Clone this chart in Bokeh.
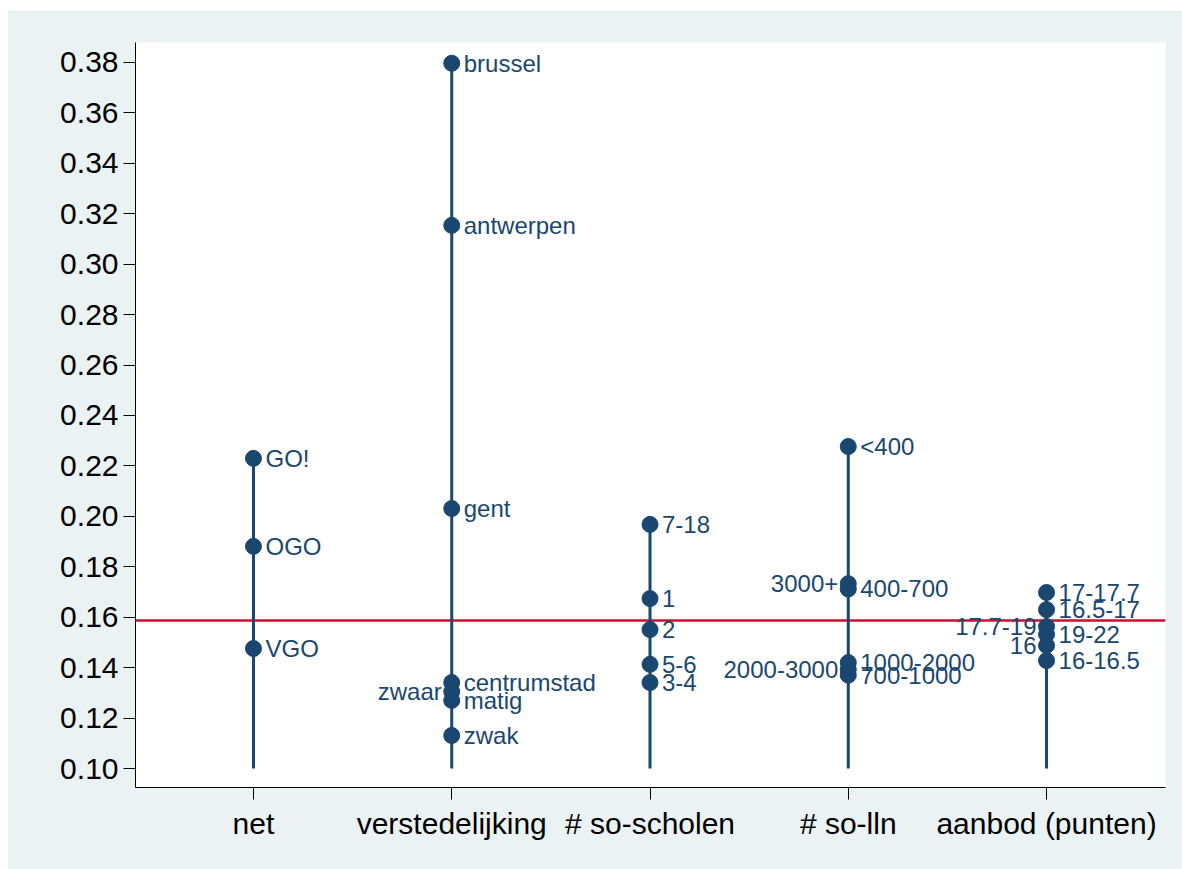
from bokeh.plotting import figure
from bokeh.models import ColumnDataSource, Span, FixedTicker
from bokeh.core.properties import value
from bokeh.embed import file_html
from bokeh.resources import INLINE

categories = ["net", "verstedelijking", "# so-scholen", "# so-lln", "aanbod (punten)"]

net_labels = ["GO!", "OGO", "VGO"]
net_values = [0.2230, 0.1881, 0.1476]
net_sides = ["r", "r", "r"]

verst_labels = ["brussel", "antwerpen", "gent", "centrumstad", "zwaar", "matig", "zwak"]
verst_values = [0.3797, 0.3154, 0.2031, 0.1341, 0.1305, 0.1270, 0.1131]
verst_sides = ["r", "r", "r", "r", "l", "r", "r"]

scholen_labels = ["7-18", "1", "2", "5-6", "3-4"]
scholen_values = [0.1968, 0.1674, 0.1551, 0.1413, 0.1341]
scholen_sides = ["r", "r", "r", "r", "r"]

lln_labels = ["<400", "3000+", "400-700", "1000-2000", "2000-3000", "700-1000"]
lln_values = [0.2277, 0.1733, 0.1712, 0.1420, 0.1392, 0.1370]
lln_sides = ["r", "l", "r", "r", "l", "r"]

aanbod_labels = ["17-17.7", "16.5-17", "17.7-19", "19-22", "16", "16-16.5"]
aanbod_values = [0.1698, 0.1630, 0.1563, 0.1532, 0.1488, 0.1428]
aanbod_sides = ["r", "r", "l", "r", "l", "r"]

reference_value = 0.1587
base_value = 0.10
y_ticks = [0.10, 0.12, 0.14, 0.16, 0.18, 0.20, 0.22, 0.24, 0.26, 0.28, 0.30, 0.32, 0.34, 0.36, 0.38]

groups = [
    (net_labels, net_values, net_sides),
    (verst_labels, verst_values, verst_sides),
    (scholen_labels, scholen_values, scholen_sides),
    (lln_labels, lln_values, lln_sides),
    (aanbod_labels, aanbod_values, aanbod_sides),
]

NAVY = "#1A476F"
FONT = "Liberation Sans"

p = figure(width=1175, height=859, margin=(10, 0, 0, 7),
           x_range=(0.405, 5.6), y_range=(0.092465, 0.38793),
           output_backend="svg", toolbar_location=None,
           min_border_left=128, min_border_top=32, min_border_right=17, min_border_bottom=82)
p.background_fill_color = "white"
p.border_fill_color = "#EAF2F3"
p.outline_line_color = None
p.xgrid.visible = False
p.ygrid.visible = False

red = Span(location=reference_value, dimension="width", line_color="#C8102E",
           line_width=2.5, level="underlay")
p.add_layout(red)

seg_x, seg_top = [], []
px, py, lbl, sides = [], [], [], []
for i, (labs, vals, sds) in enumerate(groups):
    x = i + 1
    seg_x.append(x)
    seg_top.append(max(vals))
    for l, v, s in zip(labs, vals, sds):
        px.append(x); py.append(v); lbl.append(l); sides.append(s)

p.segment(x0=seg_x, y0=[base_value] * len(seg_x), x1=seg_x, y1=seg_top,
          line_color=NAVY, line_width=3)
p.scatter(px, py, size=16, fill_color=NAVY, line_color=NAVY, marker="circle")

right_src = ColumnDataSource(dict(x=[a for a, s in zip(px, sides) if s == "r"],
                                  y=[b for b, s in zip(py, sides) if s == "r"],
                                  t=[c for c, s in zip(lbl, sides) if s == "r"]))
left_src = ColumnDataSource(dict(x=[a for a, s in zip(px, sides) if s == "l"],
                                 y=[b for b, s in zip(py, sides) if s == "l"],
                                 t=[c for c, s in zip(lbl, sides) if s == "l"]))
p.text(x="x", y="y", text="t", source=right_src, x_offset=12, text_align="left",
       text_baseline="middle", text_color=NAVY, text_font=value(FONT), text_font_size="24px")
p.text(x="x", y="y", text="t", source=left_src, x_offset=-10, text_align="right",
       text_baseline="middle", text_color=NAVY, text_font=value(FONT), text_font_size="24px")

p.yaxis.ticker = FixedTicker(ticks=y_ticks)
p.yaxis.major_label_overrides = {t: f"{t:.2f}" for t in y_ticks}
p.xaxis.ticker = FixedTicker(ticks=[1, 2, 3, 4, 5])
p.xaxis.major_label_overrides = {i + 1: c for i, c in enumerate(categories)}

for ax in (p.xaxis[0], p.yaxis[0]):
    ax.axis_line_color = "black"
    ax.axis_line_width = 1
    ax.major_tick_line_color = "black"
    ax.major_tick_out = 12
    ax.major_tick_in = 0
    ax.minor_tick_line_color = None
    ax.major_label_text_font = FONT
    ax.major_label_text_font_size = "30px"
    ax.major_label_text_color = "black"
p.yaxis.major_label_standoff = 5
p.xaxis.major_label_standoff = 7

open("out.html", "w").write(file_html(p, INLINE))
